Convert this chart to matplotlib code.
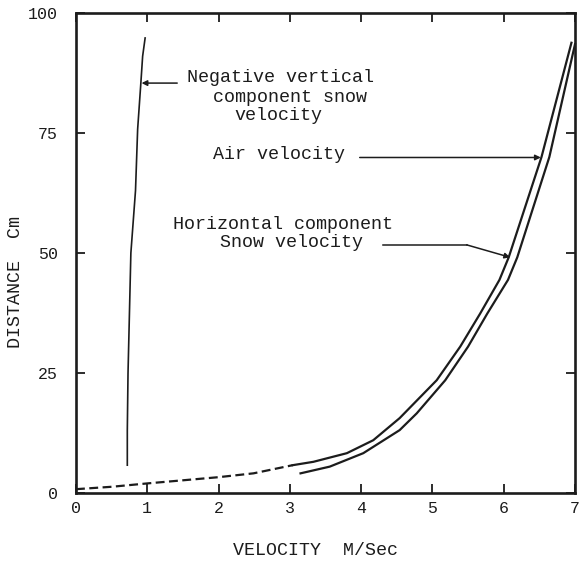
import matplotlib
matplotlib.use('Agg')
import matplotlib.pyplot as plt

plt.rcParams['font.family'] = ['Liberation Mono', 'DejaVu Sans Mono']

# negative vertical component of snow velocity
vert_vel = [0.72, 0.72, 0.73, 0.77, 0.835, 0.865, 0.91, 0.935, 0.97]
vert_dist = [5.8, 13, 25, 50, 63, 75.8, 85.4, 91, 94.8]

# air velocity (dashed part near the ground, then solid)
air_dash_vel = [0.0, 0.5, 1.0, 2.0, 2.49, 3.04]
air_dash_dist = [0.8, 1.3, 2.0, 3.3, 4.1, 5.8]
air_vel = [3.04, 3.33, 3.80, 4.17, 4.54, 5.06, 5.39, 5.67, 5.94, 6.07, 6.53, 6.95]
air_dist = [5.8, 6.5, 8.3, 11.0, 15.6, 23.5, 30.5, 37.4, 44.4, 49.1, 70, 93.8]

# horizontal component of snow velocity
snow_vel = [3.15, 3.56, 4.03, 4.54, 4.78, 5.18, 5.50, 5.77, 6.06, 6.19, 6.64, 7.0]
snow_dist = [4.1, 5.5, 8.3, 13.1, 16.6, 23.5, 30.5, 37.4, 44.4, 49.1, 70, 93.5]

xticks = [0, 1, 2, 3, 4, 5, 6, 7]
yticks = [0, 25, 50, 75, 100]

ink = '#1c1c1c'

fig = plt.figure(figsize=(5.84, 5.63), dpi=100)
ax = fig.add_axes([0.1301, 0.1243, 0.8545, 0.8526])

ax.plot(vert_vel, vert_dist, color=ink, lw=1.2)
ax.plot(air_dash_vel, air_dash_dist, color=ink, lw=1.6, dashes=(4, 2))
ax.plot(air_vel, air_dist, color=ink, lw=1.6)
ax.plot(snow_vel, snow_dist, color=ink, lw=1.6, clip_on=False)

ax.set_xlim(0, 7)
ax.set_ylim(0, 100)
ax.set_xticks(xticks)
ax.set_yticks(yticks)
ax.tick_params(direction='in', length=6.5, width=1.3, color=ink,
               top=True, right=True, labelsize=12, labelcolor=ink)
ax.tick_params(axis='x', pad=6)
ax.tick_params(axis='y', pad=13)
for s in ax.spines.values():
    s.set_linewidth(1.9)
    s.set_color(ink)

ax.set_xlabel('VELOCITY  M/Sec', fontsize=13.2, color=ink)
ax.set_ylabel('DISTANCE  Cm', fontsize=13.2, color=ink)
ax.xaxis.set_label_coords(0.479, -0.102)
ax.yaxis.set_label_coords(-0.104, 0.44)

# annotation text, one line at a time
fs = 13.2
lines = [
    ('Negative vertical', 1.557, 86.5),
    ('component snow', 1.921, 82.4),
    ('velocity', 2.216, 78.7),
    ('Air velocity', 1.921, 70.6),
    ('Horizontal component', 1.360, 56.0),
    ('Snow velocity', 2.02, 52.1),
]
for txt, x, y in lines:
    ax.text(x, y, txt, fontsize=fs, color=ink, ha='left', va='center')

arr = dict(arrowstyle='-|>', color=ink, lw=1.1, mutation_scale=8,
           shrinkA=0, shrinkB=0)
ax.annotate('', xy=(0.92, 85.4), xytext=(1.42, 85.4), arrowprops=arr)
ax.annotate('', xy=(6.52, 69.9), xytext=(3.98, 69.9), arrowprops=arr)
ax.plot([4.31, 5.48], [51.7, 51.7], color=ink, lw=1.1)
ax.annotate('', xy=(6.09, 49.1), xytext=(5.48, 51.7), arrowprops=arr)

fig.savefig('out.png', dpi=100)
